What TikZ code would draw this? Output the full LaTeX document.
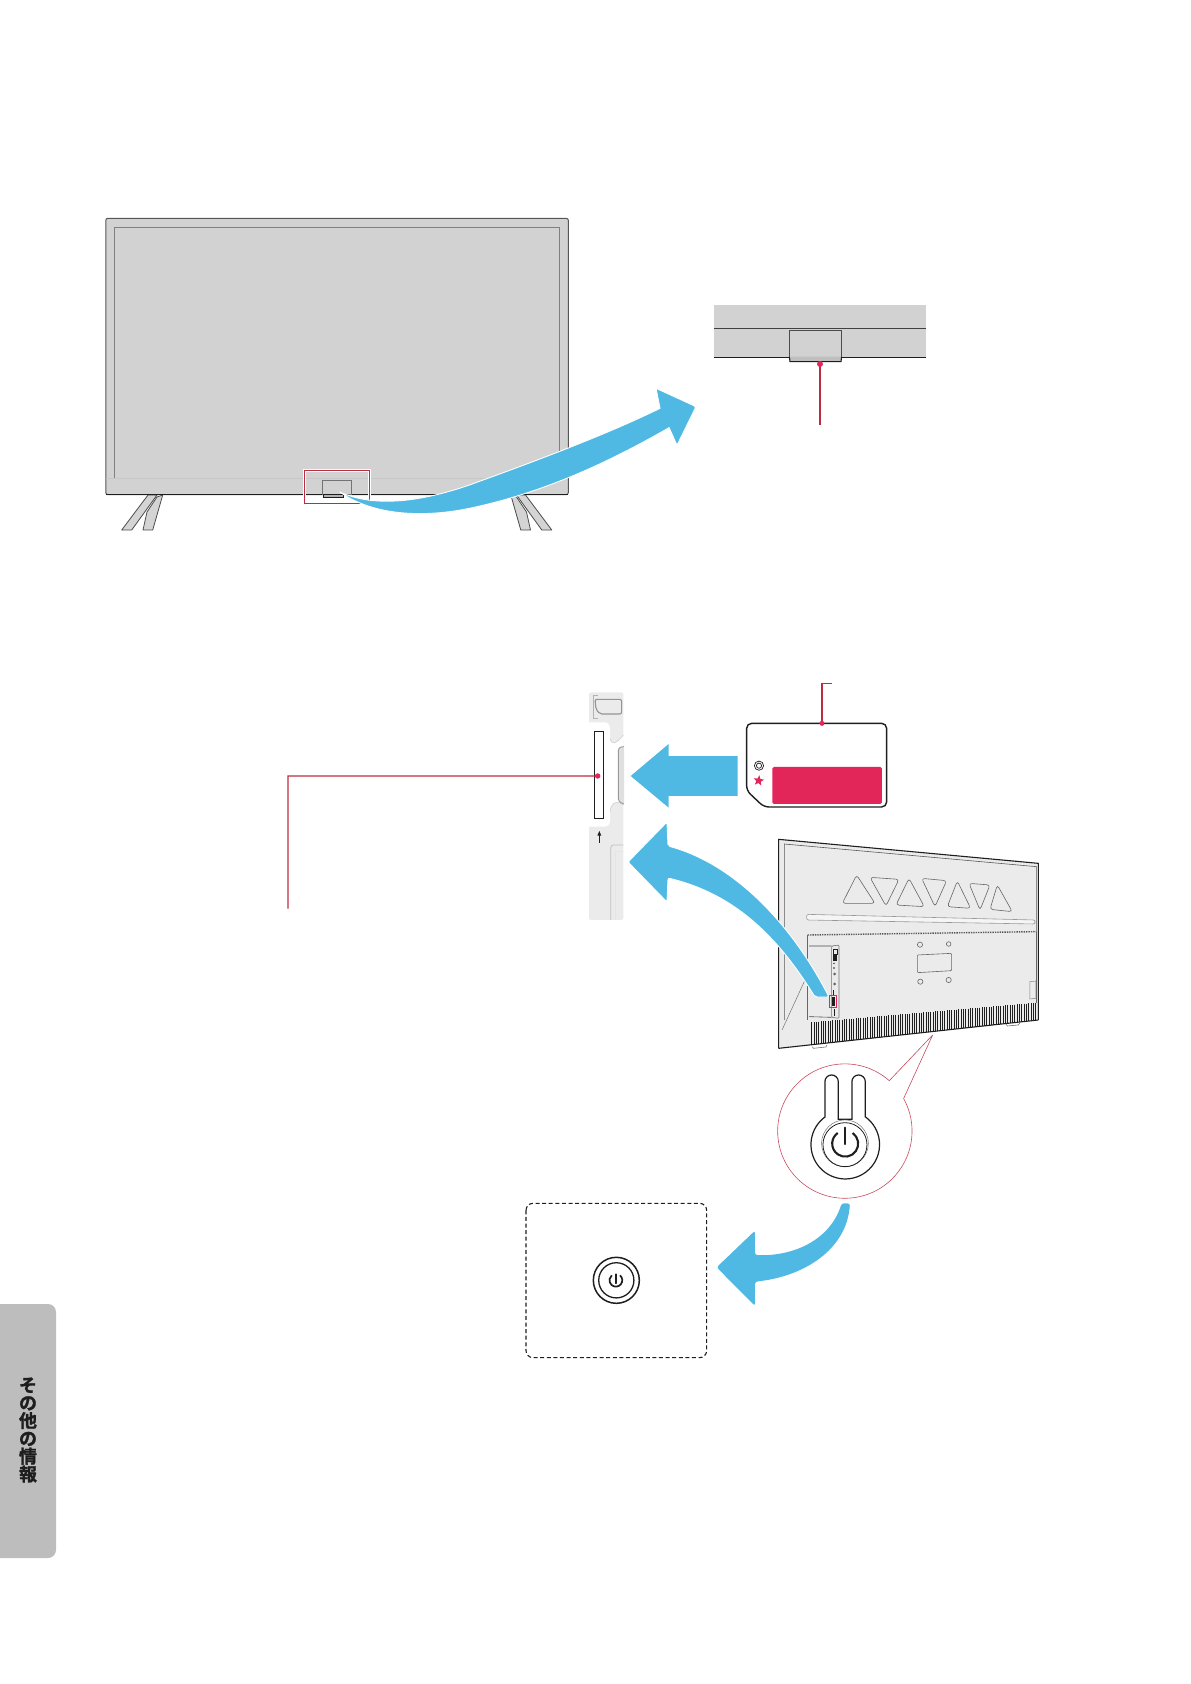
\documentclass[tikz,border=0pt]{standalone}
\usepackage{fontspec}
\newfontfamily\jpfont[FakeBold=1.6]{Noto Sans CJK JP Bold}
\usetikzlibrary{shapes.geometric}
\definecolor{tvblue}{HTML}{4FB9E3}
\definecolor{tvred}{HTML}{E3265A}
\definecolor{tvline}{HTML}{BE2A40}
\definecolor{screen}{HTML}{D2D2D2}
\definecolor{rear}{HTML}{EBEBEB}
\definecolor{tabgray}{HTML}{BDBDBD}
\definecolor{ink}{HTML}{1E1E1E}
\tikzset{
  blue arrow/.style={fill=tvblue,draw=white,line width=.9pt,line join=round},
  callout/.style={draw=tvline,line width=1.3pt},
  tvedge/.style={draw=ink!75,line width=1pt},
  hair/.style={draw=black!50,line width=.5pt},
  zone one/.style={shift={(90,200)},x=.3953pt,y=-.3333pt},
  zone two/.style={shift={(700,290)},x=.3333pt,y=-.3333pt},
  zone three/.style={shift={(570,670)},x=.3333pt,y=-.3333pt},
  zone four/.style={shift={(760,820)},x=.3333pt,y=-.3333pt},
  zone five/.style={shift={(510,1060)},x=.3333pt,y=-.3333pt},
  legpart/.style={fill=black!17,draw=black!70,line width=.8pt,line join=round},
}
\begin{document}
\begin{tikzpicture}[x=1pt,y=-1pt]
\useasboundingbox (0,0) rectangle (1191,1684);

% legs of the front view
\foreach \m/\s in {0/1,673.5/-1}{
  \begin{scope}[shift={(\m,0)},x=\s pt]
    \filldraw[legpart] (121.7,530)--(148,495)--(157,495)--(131.7,530)--cycle;
    \filldraw[legpart] (143,530)--(147,512)--(157,497)--(162.7,495)--(152.7,530)--cycle;
  \end{scope}
}

% front view
\begin{scope}[zone one]
  \filldraw[fill=screen,tvedge,rounded corners=2pt] (40,55) rectangle (1210,884);
  \draw[hair] (62,836)--(62,82)--(1188,82)--(1188,836);
  \draw[draw=black!22,line width=.7pt] (40,836)--(1210,836);
  \draw[ink,line width=1.2pt] (40,884)--(1210,884);
  \draw[white,line width=2.4pt] (543,811) rectangle (707,911);
  \draw[tvline,line width=1pt] (543,811) rectangle (707,911);
  \filldraw[fill=screen,draw=black!55,line width=.7pt] (588,840) rectangle (662,884);
  \filldraw[fill=black!30,draw=ink,line width=.8pt] (590,884) rectangle (642,892);
  \filldraw[blue arrow]
    (632,876) .. controls (690,908) and (790,925) .. (960,855)
    .. controls (1100,795) and (1300,708) .. (1442,625)
    -- (1432,565) [rounded corners=2pt] -- (1533,620) -- (1485,736) [sharp corners] -- (1465,683)
    .. controls (1300,795) and (1140,880) .. (960,925)
    .. controls (850,952) and (720,950) .. (632,876) -- cycle;
\end{scope}

% enlarged detail of the front view
\begin{scope}[zone two]
  \fill[screen] (43,45) rectangle (678,202);
  \draw[ink!85,line width=.9pt] (43,115)--(678,115);
  \draw[ink,line width=1.6pt] (43,202)--(268,202) (425,202)--(678,202);
  \fill[screen] (268,120) rectangle (425,202);
  \draw[black!70,line width=.9pt] (268,202)--(268,120)--(425,120)--(425,202);
  \filldraw[fill=black!25,draw=ink,line width=1.1pt] (268,200)--(270,215)--(423,215)--(425,200);
  \coordinate (lamp) at (360,222);
  \coordinate (lampend) at (360,405);
  \draw[callout] (lamp)--(lampend);
  \fill[tvred] (lamp) circle[radius=3pt];
\end{scope}

% side strip
\begin{scope}[zone three]
  \fill[rear,rounded corners=2pt] (57,67) rectangle (160,750);
  \fill[white] (50,157)--(105,157) .. controls (115,157) and (120,165) .. (120,180)
    --(120,205) .. controls (125,230) and (145,215) .. (160,195)
    --(160,405) .. controls (145,392) and (125,392) .. (120,425)
    --(120,450) .. controls (120,465) and (112,470) .. (105,470)--(50,470)--cycle;
  \draw[black!22,line width=.5pt] (120,205) .. controls (125,230) and (145,215) .. (160,195);
  \draw[black!22,line width=.5pt] (160,405) .. controls (145,392) and (125,392) .. (120,425);
  \filldraw[fill=black!12,draw=black!40,line width=.9pt,rounded corners=3pt]
    (162,230)--(145,232)--(145,395)--(162,402);
  \filldraw[fill=black!8,draw=black!42,line width=1.1pt,rounded corners=2pt]
    (75,88)--(155,88)--(155,132)--(90,132)--(78,118)--cycle;
  \draw[black!30,line width=.8pt] (85,75)--(70,75)--(70,145)--(85,145);
  \draw[black!25,line width=.7pt,rounded corners=3pt] (160,525)--(122,525)--(122,750);
  \draw[black!10,line width=.5pt] (160,545)--(137,545)--(137,750);
  \filldraw[fill=white,draw=ink,line width=1.6pt] (74,185) rectangle (100,445);
  \draw[ink,line width=1.2pt] (88,518)--(88,492);
  \fill[ink] (88,483)--(94,497)--(82,497)--cycle;
  \coordinate (slot) at (83,318);
  % straight arrow
  \fill[tvblue] (182,318)--(296,222)--(296,258)--(503,258)--(503,378)--(296,378)--(296,413)--cycle;
  % label card
  \filldraw[fill=white,draw=ink,line width=1.4pt,rounded corners=5pt]
    (530,160)--(950,160)--(950,411)--(582,411)--(530,362)--cycle;
  \fill[tvred,rounded corners=1.5pt] (607,291) rectangle (936,402);
  \draw[ink,line width=.7pt] (567,287) circle[radius=4.6pt] (567,287) circle[radius=2.6pt];
  \node[star,star points=5,star point ratio=2.3,fill=tvred,inner sep=0pt,minimum size=11pt,rotate=-8] (cardstar) at (566,332) {};
  \coordinate (card) at (756,160);
  \coordinate (cardup) at (756,40);
  \coordinate (cardend) at (787,40);
  \draw[callout] (card)--(cardup)--(cardend);
  \fill[tvred] (card) circle[radius=2.5pt];
\end{scope}

\coordinate (slotbend) at (288,776);
\coordinate (slotend) at (288,908.5);
\draw[callout] (slot)--(slotbend)--(slotend);
\fill[tvred] (slot) circle[radius=2.7pt];

% rear view
\begin{scope}[zone four]
  \fill[rear] (56,58)--(835,130)--(835,600)--(56,685)--cycle;
  \draw[ink,line width=1.1pt] (56,685)--(56,58)--(835,130)--(835,600);
  \draw[black!65,line width=.6pt] (73,600)--(73,72)--(830,140)--(830,340);
  \draw[black!55,line width=.5pt] (66,630)--(135,480);
  \foreach \p in {
    {(290,165)--(345,250)--(247,250)},
    {(330,172)--(417,178)--(378,258)},
    {(447,175)--(493,260)--(408,255)},
    {(485,175)--(560,182)--(525,260)},
    {(592,183)--(632,265)--(562,260)},
    {(627,190)--(690,195)--(660,270)},
    {(712,195)--(757,275)--(690,268)}}{
    \draw[black!60,line width=.6pt,rounded corners=3pt] \p--cycle;
  }
  \filldraw[fill=black!4,draw=black!40,line width=.6pt,rounded corners=2pt] (140,283)--(825,300)--(825,312)--(140,300)--cycle;
  \draw[black!65,line width=1.4pt,densely dotted] (143,345)--(828,335);
  \draw[black!60,line width=.6pt] (143,345)--(143,600) (828,335)--(828,550);
  \draw[black!60,line width=.6pt,rounded corners=1pt] (472,405)--(575,400)--(575,452)--(472,458)--cycle;
  \draw[black!60,line width=.6pt]
    (480,374) circle[radius=2.6pt] (566,372) circle[radius=2.3pt]
    (481,485) circle[radius=2.6pt] (566,480) circle[radius=2.6pt];
  \draw[black!50,line width=.5pt] (810,485)--(828,483)--(828,535)--(810,537)--cycle;
  \draw[black!70,line width=.6pt] (147,378)--(215,378) (147,590)--(215,592);
  \filldraw[fill=rear,draw=black!55,line width=.6pt,rounded corners=1pt] (215,378)--(237,375)--(237,595)--(215,592)--cycle;
  \draw[ink,line width=.7pt] (219,388) rectangle (231,402);
  \fill[ink] (218,406) rectangle (232,422);
  \fill[ink] (222,430) circle[radius=.8pt] (222,444) circle[radius=.8pt];
  \fill[black!60] (224,462) circle[radius=1.5pt] (224,492) circle[radius=1.5pt];
  \draw[ink,line width=1pt] (220,510)--(220,525) (222,568)--(222,588);
  \fill[ink] (216,532) rectangle (226,558);
  \draw[tvred,line width=.8pt] (208,527) rectangle (230,562);
  \foreach \x in {155,162,...,830}{
    \draw[ink,line width=.65pt] (\x,{607-(\x-150)*0.087}) -- (\x,{685-(\x-56)*0.1091});
  }
  \draw[ink,line width=1.1pt] (56,685)--(835,600);
  \draw[black!55,line width=.6pt] (157,680)--(160,685)--(198,681)--(201,675);
  \draw[black!55,line width=.6pt] (738,612)--(742,618)--(775,615)--(780,608);
  \coordinate (apex) at (518,645);
\end{scope}

% curved arrow to the strip
\filldraw[blue arrow,rounded corners=2pt]
  (668,846) .. controls (735,864) and (792,925) .. (829,997)
  -- (815,997) .. controls (778,937) and (735,894) .. (668,878)
  -- (667,902) -- (628,862) -- (667,822) -- cycle;

% magnified power button
\begin{scope}[zone five]
  \coordinate (calla) at (1138,62);
  \coordinate (callb) at (1182,115);
  \draw[tvline!85,line width=.6pt] (apex)--(calla) arc[start angle=48.6,end angle=389,radius=67.2pt]--(apex);
  \draw[ink,line width=1.2pt]
    (1066,172)--(1066,65) arc[start angle=0,end angle=180,radius=6.7pt]--(1026,178)--(985,178)
    --(985,65) arc[start angle=0,end angle=180,radius=6.7pt]--(945,171)
    arc[start angle=126.3,end angle=413.7,radius=34.3pt];
  \draw[black!60,line width=.45pt] (1005,250) circle[radius=23.4pt];
  \draw[ink,line width=.8pt] (1005,254) circle[radius=22pt];
  \draw[ink,line width=2.1pt,line cap=round] (1005,203)--(1005,252);
  \draw[ink,line width=2.1pt] (1028,219) arc[start angle=55,end angle=-235,radius=13pt];
  % dashed panel
  \draw[ink,line width=1.1pt,dash pattern=on 4pt off 2.6pt,rounded corners=7pt] (48,430) rectangle (590,893);
  \draw[ink,line width=1.5pt] (319,661) circle[radius=23pt];
  \draw[ink,line width=1.3pt] (319,661) circle[radius=17.6pt];
  \draw[ink,line width=1.7pt,line cap=round] (319,643)--(319,670);
  \draw[ink,line width=1.7pt] (330,646) arc[start angle=50,end angle=-230,radius=6.4pt];
  % bending arrow
  \fill[tvblue,rounded corners=2.5pt]
    (735,585) .. controls (850,590) and (960,540) .. (995,430)
    -- (1020,430) .. controls (1010,570) and (880,650) .. (735,665)
    -- (735,738) -- (620,622) -- (735,512) -- cycle;
\end{scope}

% side tab
\fill[tabgray,rounded corners=8pt] (-12,1304) rectangle (56,1558);
\node[inner sep=0pt,align=center,font=\jpfont\fontsize{18}{17.8}\selectfont,text=ink] (tabtext) at (28,1430) {そ\\の\\他\\の\\情\\報};
\end{tikzpicture}
\end{document}
